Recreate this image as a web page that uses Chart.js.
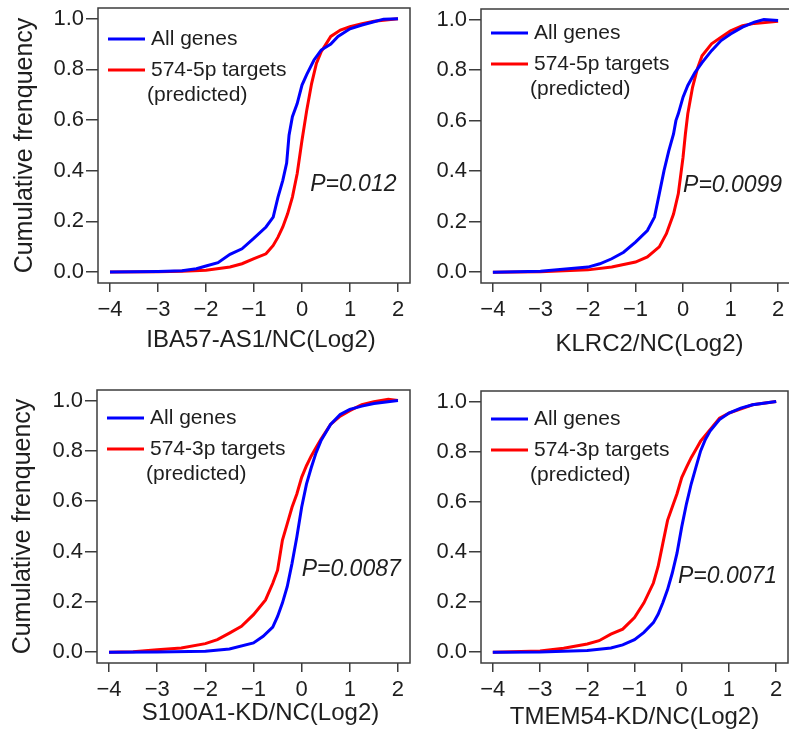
<!DOCTYPE html>
<html>
<head>
<meta charset="utf-8">
<script src="https://cdn.jsdelivr.net/npm/chart.js@4/dist/chart.umd.min.js"></script>
<style>
  html, body { margin:0; padding:0; background:#ffffff; width:789px; height:740px; overflow:hidden; }
  body { position:relative; }
  canvas { position:absolute; }
</style>
</head>
<body>
<canvas id="p1" width="420" height="370" style="left:0px;top:0px"></canvas>
<canvas id="p2" width="392" height="370" style="left:400px;top:0px"></canvas>
<canvas id="p3" width="420" height="370" style="left:0px;top:370px"></canvas>
<canvas id="p4" width="392" height="370" style="left:400px;top:370px"></canvas>
<script>
'use strict';

// ─── Data ─────────────────────────────────────────────────────────────────────

const X_TICKS = [-4, -3, -2, -1, 0, 1, 2];
const Y_TICKS = [0, 0.2, 0.4, 0.6, 0.8, 1.0];

// IBA57-AS1
const p1AllX = [-4, -3, -2.5, -2.2, -2, -1.75, -1.5, -1.25, -1, -0.75, -0.6, -0.5, -0.4, -0.32, -0.27, -0.2, -0.1, 0, 0.1, 0.25, 0.4, 0.6, 0.75, 1, 1.25, 1.5, 1.7, 2];
const p1AllY = [0, 0.002, 0.005, 0.013, 0.024, 0.037, 0.07, 0.092, 0.134, 0.178, 0.217, 0.296, 0.362, 0.43, 0.54, 0.613, 0.665, 0.738, 0.78, 0.837, 0.876, 0.9, 0.93, 0.96, 0.975, 0.988, 0.998, 1.0];
const p1TargetX = [-4, -3, -2.5, -2, -1.5, -1.25, -1, -0.75, -0.6, -0.5, -0.4, -0.3, -0.2, -0.1, 0, 0.1, 0.2, 0.3, 0.4, 0.6, 0.8, 1, 1.25, 1.5, 2];
const p1TargetY = [0, 0.001, 0.003, 0.007, 0.02, 0.033, 0.053, 0.072, 0.105, 0.138, 0.178, 0.23, 0.296, 0.389, 0.52, 0.64, 0.744, 0.823, 0.87, 0.93, 0.955, 0.968, 0.98, 0.99, 1.0];

// KLRC2
const p2AllX = [-4, -3, -2, -1.75, -1.5, -1.25, -1, -0.75, -0.6, -0.5, -0.4, -0.3, -0.2, -0.15, -0.1, 0, 0.1, 0.25, 0.4, 0.6, 0.8, 1, 1.25, 1.5, 1.7, 2];
const p2AllY = [0, 0.004, 0.02, 0.033, 0.053, 0.079, 0.119, 0.165, 0.218, 0.31, 0.402, 0.48, 0.547, 0.6, 0.627, 0.693, 0.739, 0.79, 0.83, 0.877, 0.917, 0.943, 0.97, 0.99, 1.0, 0.996];
const p2TargetX = [-4, -3, -2, -1.5, -1, -0.75, -0.5, -0.35, -0.2, -0.1, 0, 0.05, 0.1, 0.2, 0.3, 0.4, 0.6, 0.8, 1, 1.25, 1.5, 2];
const p2TargetY = [0, 0.002, 0.009, 0.02, 0.04, 0.06, 0.1, 0.152, 0.23, 0.31, 0.455, 0.548, 0.627, 0.732, 0.805, 0.857, 0.904, 0.93, 0.956, 0.976, 0.985, 0.993];

// S100A1-KD
const p3AllX = [-4, -3, -2, -1.5, -1, -0.8, -0.6, -0.5, -0.4, -0.3, -0.2, -0.1, 0, 0.1, 0.2, 0.3, 0.4, 0.6, 0.8, 1, 1.25, 1.5, 2];
const p3AllY = [0, 0.001, 0.004, 0.013, 0.037, 0.063, 0.1, 0.142, 0.195, 0.26, 0.353, 0.458, 0.576, 0.668, 0.734, 0.793, 0.84, 0.905, 0.945, 0.965, 0.978, 0.988, 1.0];
const p3TargetX = [-4, -3.5, -3, -2.5, -2, -1.75, -1.5, -1.25, -1, -0.75, -0.6, -0.5, -0.4, -0.3, -0.2, -0.1, 0, 0.1, 0.2, 0.3, 0.4, 0.6, 0.8, 1, 1.25, 1.5, 1.8, 2];
const p3TargetY = [0, 0.002, 0.01, 0.017, 0.034, 0.05, 0.076, 0.103, 0.149, 0.208, 0.274, 0.326, 0.445, 0.51, 0.576, 0.629, 0.695, 0.741, 0.78, 0.813, 0.846, 0.905, 0.938, 0.96, 0.984, 0.995, 1.005, 1.0];

// TMEM54-KD
const p4AllX = [-4, -3, -2, -1.5, -1.25, -1, -0.8, -0.6, -0.5, -0.4, -0.3, -0.2, -0.1, 0, 0.1, 0.2, 0.3, 0.4, 0.5, 0.6, 0.8, 1, 1.25, 1.5, 2];
const p4AllY = [0, 0.001, 0.007, 0.017, 0.029, 0.05, 0.079, 0.118, 0.151, 0.197, 0.25, 0.316, 0.395, 0.5, 0.592, 0.671, 0.737, 0.803, 0.849, 0.882, 0.928, 0.954, 0.974, 0.987, 1.0];
const p4TargetX = [-4, -3, -2.5, -2, -1.75, -1.5, -1.25, -1, -0.8, -0.6, -0.5, -0.4, -0.3, -0.2, -0.1, 0, 0.1, 0.2, 0.3, 0.4, 0.6, 0.8, 1, 1.5, 2];
const p4TargetY = [0, 0.005, 0.016, 0.033, 0.046, 0.072, 0.092, 0.138, 0.197, 0.276, 0.342, 0.434, 0.526, 0.579, 0.632, 0.697, 0.737, 0.776, 0.809, 0.842, 0.888, 0.934, 0.954, 0.987, 1.0];

// ─── Style ────────────────────────────────────────────────────────────────────

const FONT = '"Liberation Sans", Arial, sans-serif';
const TEXT = '#1e1e1e';
const AXIS = '#3c3c3c';
const BLUE = '#0000ff';
const RED = '#ff0000';

const X_MIN = -4.25, X_MAX = 2.25;
const Y_MIN = -0.043, Y_MAX = 1.042;

function fmtX(v) {
  return v < 0 ? '\u2212' + Math.abs(v) : String(v);
}

function toPoints(xs, ys) {
  return xs.map((x, i) => ({ x, y: ys[i] }));
}

// keep the plot box where it is in the reference: no auto padding for edge labels
function noPad(s) {
  s.paddingTop = 0;
  s.paddingBottom = 0;
  s.paddingLeft = 0;
  s.paddingRight = 0;
}

// ─── Frame, in-plot legend, P value, x title ─────────────────────────────────

const panelDecor = {
  id: 'panelDecor',
  afterDatasetsDraw(chart, args, o) {
    const { ctx, chartArea: a, scales } = chart;
    ctx.save();
    ctx.strokeStyle = AXIS;
    ctx.lineWidth = 1.5;
    ctx.strokeRect(a.left, a.top, a.right - a.left, a.bottom - a.top);

    // legend
    const rows = [0, 31, 56];
    ctx.lineWidth = 3;
    ctx.font = '21px ' + FONT;
    ctx.fillStyle = TEXT;
    ctx.textBaseline = 'middle';
    ctx.textAlign = 'left';
    chart.data.datasets.forEach((ds, i) => {
      const y = a.top + o.legendTop + rows[i];
      ctx.strokeStyle = ds.borderColor;
      ctx.beginPath();
      ctx.moveTo(a.left + 10, y);
      ctx.lineTo(a.left + 47, y);
      ctx.stroke();
      ctx.fillText(ds.label, a.left + 53, y);
    });
    ctx.fillText(o.legendNote, a.left + 49, a.top + o.legendTop + rows[2]);

    // P value
    ctx.font = 'italic 23px ' + FONT;
    ctx.fillText(o.pText, scales.x.getPixelForValue(o.pAt[0]), scales.y.getPixelForValue(o.pAt[1]));

    // x axis title (sits a little right of the box centre in the reference)
    ctx.font = '24px ' + FONT;
    ctx.textAlign = 'center';
    ctx.fillText(o.xTitle, (a.left + a.right) / 2 + o.xTitleShift, o.xTitleY);
    ctx.restore();
  },
};

// ─── Panel builder ────────────────────────────────────────────────────────────

function makePanel(id, p) {
  const ctx = document.getElementById(id).getContext('2d');
  new Chart(ctx, {
    type: 'line',
    data: {
      datasets: [
        { label: 'All genes', data: toPoints(p.allX, p.allY), borderColor: BLUE },
        { label: p.targetLabel, data: toPoints(p.targetX, p.targetY), borderColor: RED },
      ].map(ds => ({ ...ds, borderWidth: 3, pointRadius: 0, tension: 0, fill: false })),
    },
    options: {
      animation: false,
      responsive: false,
      devicePixelRatio: 1,
      layout: { padding: { top: p.padTop, right: p.padRight, left: 0, bottom: 0 } },
      plugins: {
        legend: { display: false },
        tooltip: { enabled: false },
        panelDecor: {
          legendTop: p.legendTop, legendNote: '(predicted)', pText: p.pText, pAt: p.pAt,
          xTitle: p.xTitle, xTitleY: p.xTitleY, xTitleShift: p.xTitleShift,
        },
      },
      scales: {
        x: {
          type: 'linear',
          min: X_MIN,
          max: X_MAX,
          afterBuildTicks: s => { s.ticks = X_TICKS.map(v => ({ value: v })); },
          afterFit: s => { s.height = p.xAxisH; noPad(s); },
          border: { display: false },
          grid: { drawOnChartArea: false, drawTicks: true, tickLength: 9, color: AXIS, lineWidth: 1.5 },
          ticks: {
            autoSkip: false, maxRotation: 0, padding: 5, color: TEXT,
            font: { family: FONT, size: 22 },
            callback: v => fmtX(v),
          },
        },
        y: {
          type: 'linear',
          min: Y_MIN,
          max: Y_MAX,
          afterBuildTicks: s => { s.ticks = Y_TICKS.map(v => ({ value: v })); },
          afterFit: s => { s.width = p.yAxisW; noPad(s); },
          border: { display: false },
          grid: { drawOnChartArea: false, drawTicks: true, tickLength: 12, color: AXIS, lineWidth: 1.5 },
          ticks: {
            autoSkip: false, padding: 2, color: TEXT,
            font: { family: FONT, size: 22 },
            callback: v => v.toFixed(1),
          },
          title: {
            display: !!p.yTitle, text: p.yTitle || '', color: TEXT,
            font: { family: FONT, size: 25 },
            padding: { top: p.yTitlePad || 0, bottom: 0 },
          },
        },
      },
    },
    plugins: [panelDecor],
  });
}

makePanel('p1', {
  allX: p1AllX, allY: p1AllY, targetX: p1TargetX, targetY: p1TargetY,
  targetLabel: '574-5p targets', xTitle: 'IBA57-AS1/NC(Log2)', yTitle: 'Cumulative frenquency',
  pText: 'P=0.012', pAt: [0.17, 0.344],
  padTop: 8, padRight: 10, yAxisW: 98, xAxisH: 87, xTitleY: 340, xTitleShift: 7, yTitlePad: 10, legendTop: 31,
});

makePanel('p2', {
  allX: p2AllX, allY: p2AllY, targetX: p2TargetX, targetY: p2TargetY,
  targetLabel: '574-5p targets', xTitle: 'KLRC2/NC(Log2)',
  pText: 'P=0.0099', pAt: [0.0, 0.344],
  padTop: 9, padRight: 2, yAxisW: 81, xAxisH: 87, xTitleY: 344, xTitleShift: 14, legendTop: 24,
});

makePanel('p3', {
  allX: p3AllX, allY: p3AllY, targetX: p3TargetX, targetY: p3TargetY,
  targetLabel: '574-3p targets', xTitle: 'S100A1-KD/NC(Log2)', yTitle: 'Cumulative frenquency',
  pText: 'P=0.0087', pAt: [0.0, 0.327],
  padTop: 20, padRight: 10, yAxisW: 97, xAxisH: 77, xTitleY: 343, xTitleShift: 7, yTitlePad: 8, legendTop: 28,
});

makePanel('p4', {
  allX: p4AllX, allY: p4AllY, targetX: p4TargetX, targetY: p4TargetY,
  targetLabel: '574-3p targets', xTitle: 'TMEM54-KD/NC(Log2)',
  pText: 'P=0.0071', pAt: [-0.08, 0.30],
  padTop: 21, padRight: 4, yAxisW: 81, xAxisH: 77, xTitleY: 347, xTitleShift: 0, legendTop: 28,
});
</script>
</body>
</html>
